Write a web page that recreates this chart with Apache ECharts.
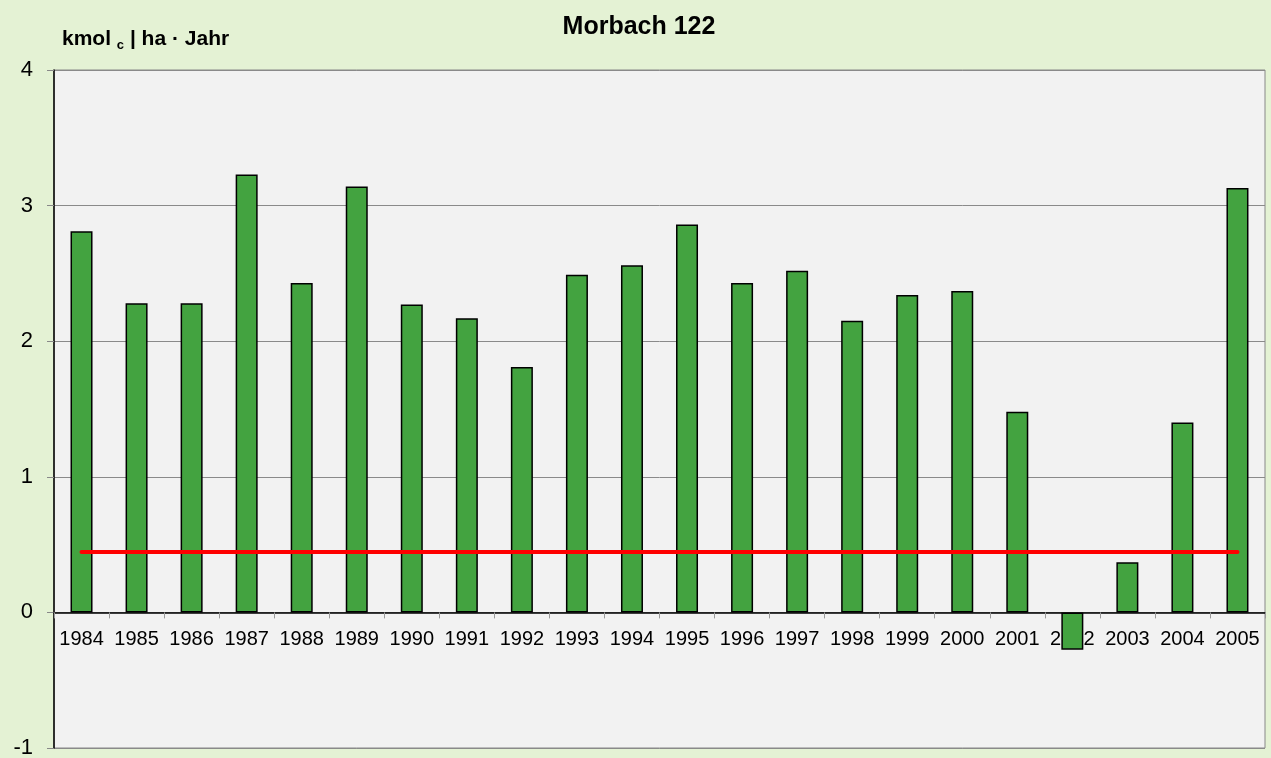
<!DOCTYPE html>
<html>
<head>
<meta charset="utf-8">
<script src="https://cdn.jsdelivr.net/npm/echarts@6/dist/echarts.min.js"></script>
<style>
html,body{margin:0;padding:0;background:#e4f2d4;}
#chart{width:1271px;height:758px;}
</style>
</head>
<body>
<div id="chart"></div>
<script>
const titleText = 'Morbach 122';
const years = ['1984','1985','1986','1987','1988','1989','1990','1991','1992','1993','1994','1995','1996','1997','1998','1999','2000','2001','2002','2003','2004','2005'];
const values = [2.81,2.28,2.28,3.23,2.43,3.14,2.27,2.17,1.81,2.49,2.56,2.86,2.43,2.52,2.15,2.34,2.37,1.48,-0.275,0.37,1.40,3.13];
const referenceLevel = 0.45;
const yMin = -1, yMax = 4, yStep = 1;

const W = 1271, H = 758;
const gridTop = 70, gridBottom = 10;
const plotH = H - gridTop - gridBottom;
// move category axis up so it sits on the zero line
const zeroOffset = -plotH * (0 - yMin) / (yMax - yMin);

const chart = echarts.init(document.getElementById('chart'), null, {renderer:'canvas'});
chart.setOption({
  backgroundColor: '#e4f2d4',
  animation: false,
  textStyle: {fontFamily: 'Liberation Sans, Arial, sans-serif'},
  title: {
    text: titleText,
    left: 634, top: 10, textAlign: 'center',
    textStyle: {fontSize: 25, fontWeight: 'bold', color: '#000', fontFamily: 'Liberation Sans, Arial, sans-serif'}
  },
  grid: {
    left: 54, right: 6, top: gridTop, bottom: gridBottom,
    show: true, backgroundColor: '#f2f2f2', borderColor: '#888', borderWidth: 1,
    containLabel: false,
    outerBoundsMode: 'none'
  },
  xAxis: {
    type: 'category',
    data: years,
    position: 'bottom',
    offset: zeroOffset,
    axisLine: {onZero: false, lineStyle: {color: '#000', width: 1.5}},
    axisTick: {show: true, length: 6, lineStyle: {color: '#999'}},
    axisLabel: {color: '#000', fontSize: 20, margin: 17, interval: 0},
    z: 1
  },
  yAxis: {
    type: 'value',
    min: yMin, max: yMax, interval: yStep,
    name: '{a|kmol }{s|c}{a| | ha · Jahr}',
    nameLocation: 'end',
    nameGap: 18,
    nameTextStyle: {
      align: 'left', padding: [0,0,0,8],
      rich: {
        a: {fontSize: 21, fontWeight: 'bold', color: '#000', fontFamily: 'Liberation Sans, Arial, sans-serif'},
        s: {fontSize: 13, fontWeight: 'bold', color: '#000', padding: [12,0,0,0], fontFamily: 'Liberation Sans, Arial, sans-serif'}
      }
    },
    axisLine: {show: true, lineStyle: {color: '#000', width: 1.5}},
    axisTick: {show: true, length: 7, lineStyle: {color: '#888'}},
    axisLabel: {color: '#000', fontSize: 22, margin: 21},
    splitLine: {show: true, lineStyle: {color: '#8a8a8a', width: 1}}
  },
  series: [{
    type: 'bar',
    data: values,
    barWidth: 22,
    z: 2,
    itemStyle: {color: '#43a340', borderColor: '#000', borderWidth: 1.5},
    markLine: {
      silent: true,
      symbol: 'none',
      label: {show: false},
      lineStyle: {color: '#ff0000', width: 4, type: 'solid', cap: 'round'},
      data: [[{coord: [years[0], referenceLevel]}, {coord: [years[years.length-1], referenceLevel]}]]
    }
  }]
});
</script>
</body>
</html>
